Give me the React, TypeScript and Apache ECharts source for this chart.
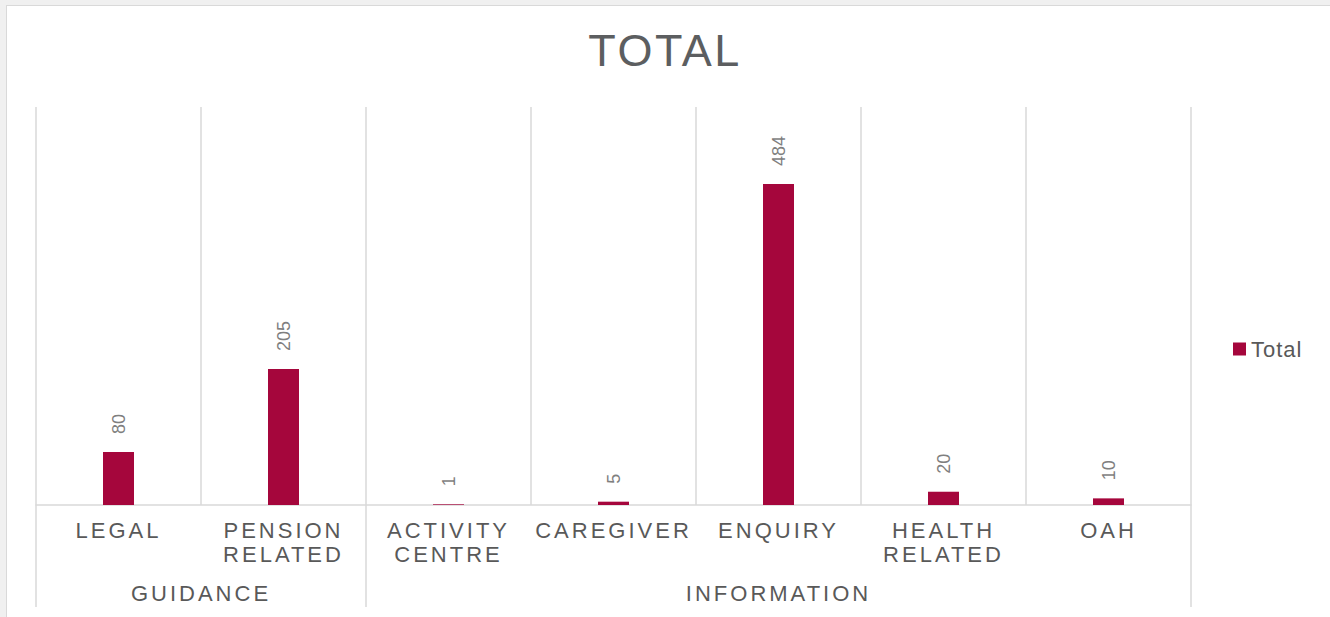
import React, { useEffect, useRef } from 'react';
import * as echarts from 'echarts';

// ---- data ----
const categories = ['LEGAL', 'PENSION\nRELATED', 'ACTIVITY\nCENTRE', 'CAREGIVER', 'ENQUIRY', 'HEALTH\nRELATED', 'OAH'];
const totals = [80, 205, 1, 5, 484, 20, 10];
const groupNames = ['GUIDANCE', 'INFORMATION'];
const groupSizes = [2, 5];
const seriesName = 'Total';
const titleText = 'TOTAL';
const yMin = 0;
const yMax = 600;

// ---- styles ----
const BAR = '#a5063c';
const TEXT = '#595959';
const TITLE_COLOR = '#5c5e60';
const LABEL = '#7f7f7f';
const GRIDLINE = '#d9d9d9';
const CAT_FONT = "'Liberation Sans', Arial, sans-serif"; // letter-spaced via CSS
const TITLE_FONT = "'Liberation Sans', Helvetica, sans-serif"; // letter-spaced via CSS
const LEGEND_FONT = "'Liberation Sans', 'DejaVu Sans', sans-serif"; // letter-spaced via CSS
const PLAIN_FONT = "'Liberation Sans', sans-serif";

export default function App() {
  const ref = useRef<HTMLDivElement>(null);

  useEffect(() => {
    if (!ref.current) return;
    const chart = echarts.init(ref.current, null, { renderer: 'svg' });
    const option: any = {
      animation: false,
      backgroundColor: 'transparent',
      title: {
        text: titleText,
        left: 'center',
        top: 23,
        textStyle: { fontSize: 45, fontWeight: 'normal', color: TITLE_COLOR, fontFamily: TITLE_FONT },
      },
      legend: {
        data: [seriesName],
        left: 1228,
        top: 333,
        icon: 'rect',
        itemWidth: 13,
        itemHeight: 13,
        textStyle: { fontSize: 22, color: TEXT, fontFamily: LEGEND_FONT },
      },
      grid: { left: 36, right: 139, top: 107, bottom: 112, containLabel: false },
      xAxis: {
        type: 'category',
        data: categories,
        axisTick: { show: false },
        axisLine: { lineStyle: { color: GRIDLINE, width: 1.5 } },
        axisLabel: {
          interval: 0,
          margin: 13,
          fontSize: 22,
          lineHeight: 24,
          color: TEXT,
          fontFamily: CAT_FONT,
        },
        splitLine: { show: true, interval: 0, lineStyle: { color: GRIDLINE, width: 1.5 } },
      },
      yAxis: {
        type: 'value',
        min: yMin,
        max: yMax,
        show: false,
        splitLine: { show: false },
      },
      series: [
        {
          name: seriesName,
          type: 'bar',
          data: totals,
          barWidth: 31,
          itemStyle: { color: BAR },
          label: {
            show: true,
            position: 'top',
            rotate: 90,
            align: 'left',
            verticalAlign: 'middle',
            distance: 18,
            fontSize: 18,
            color: LABEL,
            fontFamily: PLAIN_FONT,
          },
        },
      ],
    };
    chart.setOption(option);

    // group level of the category axis, positioned through the chart's own scales
    const c0 = chart.convertToPixel({ xAxisIndex: 0 }, 0) as number;
    const c1 = chart.convertToPixel({ xAxisIndex: 0 }, 1) as number;
    const band = c1 - c0;
    const left0 = c0 - band / 2;
    const yBase = chart.convertToPixel({ yAxisIndex: 0 }, yMin) as number;
    const lineBottom = yBase + 102;
    const groupLabelY = yBase + 88;

    const elements: any[] = [];
    let start = 0;
    const edges = [0];
    groupSizes.forEach((size, gi) => {
      const end = start + size;
      edges.push(end);
      const cx = left0 + ((start + end) / 2) * band;
      elements.push({
        type: 'text',
        x: cx,
        y: groupLabelY,
        style: {
          text: groupNames[gi],
          fontSize: 22,
          fontFamily: CAT_FONT,
          fill: TEXT,
          align: 'center',
          verticalAlign: 'middle',
          textAlign: 'center',
          textVerticalAlign: 'middle',
        },
      });
      start = end;
    });
    edges.forEach((e) => {
      const x = left0 + e * band;
      elements.push({
        type: 'line',
        shape: { x1: x, y1: yBase, x2: x, y2: lineBottom },
        style: { stroke: GRIDLINE, lineWidth: 1.5 },
      });
    });
    chart.setOption({ graphic: { elements } });

    return () => chart.dispose();
  }, []);

  return (
    <div
      style={{
        position: 'fixed',
        left: 0,
        top: 0,
        width: 1330,
        height: 617,
        overflow: 'hidden',
        background: '#f0f0f0',
      }}
    >
      <style>{`
        .chartbox text[style*="Arial"] { letter-spacing: 3px; }
        .chartbox text[style*="Helvetica"] { letter-spacing: 2.5px; }
        .chartbox text[style*="DejaVu"] { letter-spacing: 1px; }
      `}</style>
      <div
        style={{
          position: 'absolute',
          left: 6,
          top: 5,
          width: 1330,
          height: 620,
          background: '#ffffff',
          borderLeft: '1px solid #d9d9d9',
          borderTop: '1px solid #d9d9d9',
        }}
      />
      <div
        ref={ref}
        className="chartbox"
        style={{ position: 'absolute', left: 0, top: 0, width: 1330, height: 617 }}
      />
    </div>
  );
}
